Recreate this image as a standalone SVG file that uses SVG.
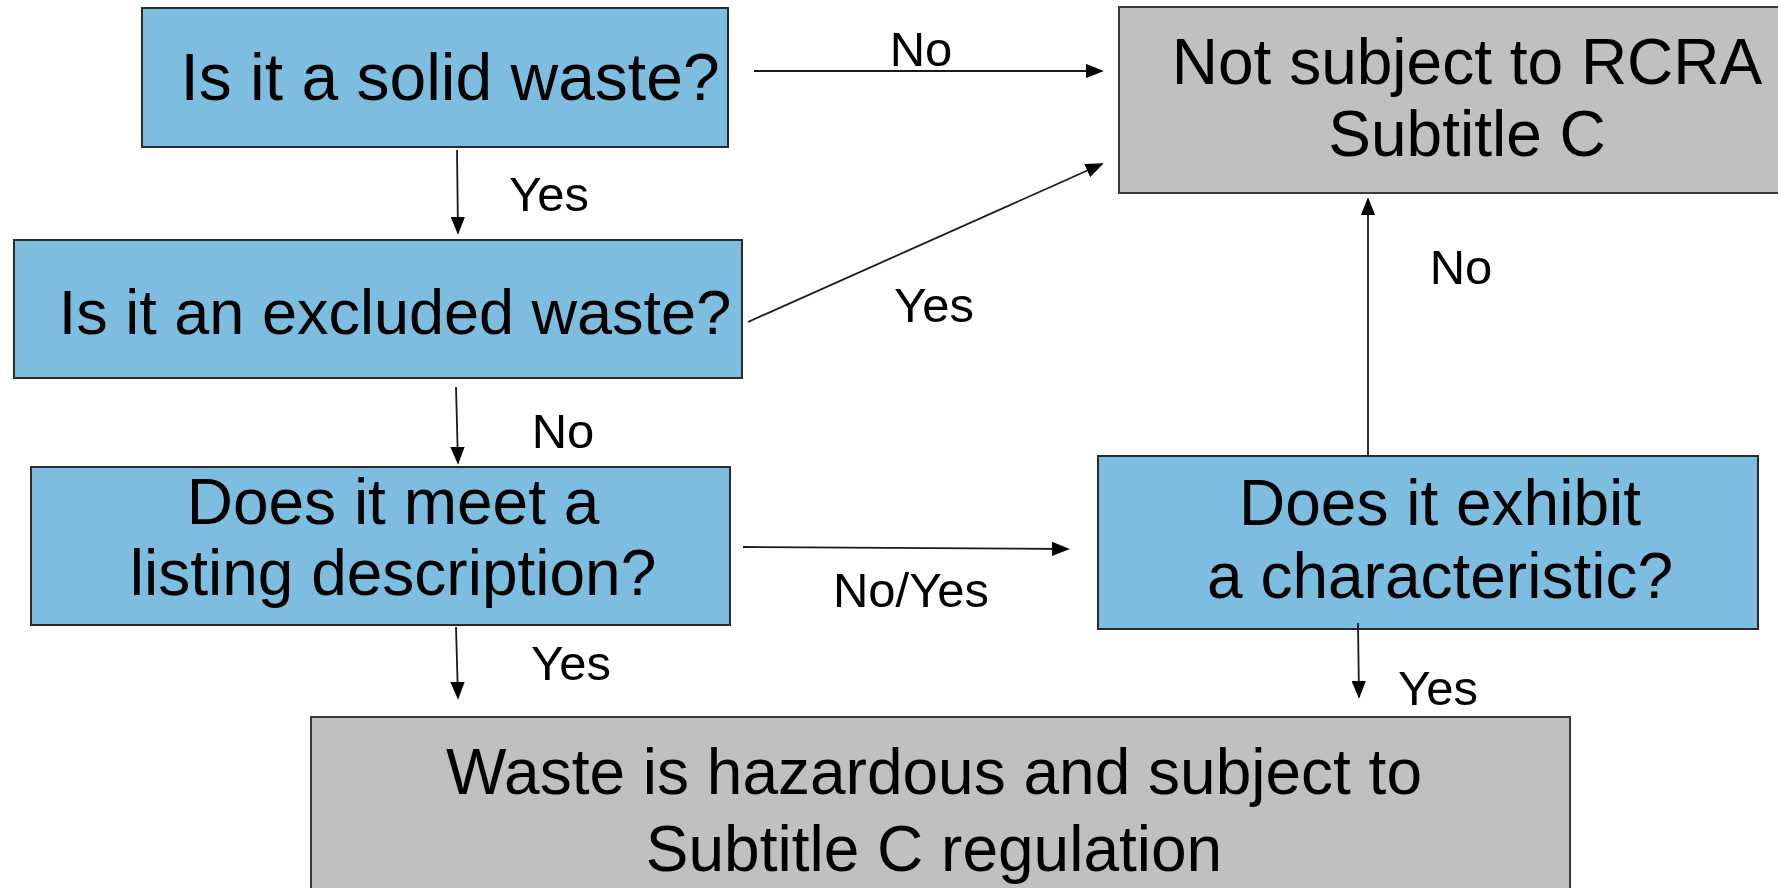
<svg xmlns="http://www.w3.org/2000/svg" width="1778" height="888" viewBox="0 0 1778 888">
<style>
.q{fill:#7dbde0;stroke:#2a2a2a;stroke-width:2}
.g{fill:#c0c0c0;stroke:#3a3a3a;stroke-width:2}
.t{font-family:"Liberation Sans",Arial,sans-serif;font-size:64px;fill:#000}
.l{font-family:"Liberation Sans",Arial,sans-serif;font-size:49px;fill:#000}
.c{fill:none;stroke:#1a1a1a;stroke-width:1.8}
</style>
<defs>
<marker id="ah" markerWidth="10" markerHeight="8" refX="9" refY="4" orient="auto" markerUnits="strokeWidth">
<path d="M0,0 L10,4 L0,8 Z" fill="#000"/>
</marker>
</defs>
<rect width="1778" height="888" fill="#fff"/>
<g id="n-solid">
<rect class="q" x="142" y="8" width="586" height="139"/>
<text class="t" x="450" y="100" text-anchor="middle" style="font-size:66px">Is it a solid waste?</text>
</g>
<g id="n-excluded">
<rect class="q" x="14" y="240" width="728" height="138"/>
<text class="t" x="395" y="334" text-anchor="middle" style="font-size:63px">Is it an excluded waste?</text>
</g>
<g id="n-listing">
<rect class="q" x="31" y="467" width="699" height="158"/>
<text class="t" x="393" y="524" text-anchor="middle">Does it meet a</text>
<text class="t" x="393" y="595" text-anchor="middle">listing description?</text>
</g>
<g id="n-characteristic">
<rect class="q" x="1098" y="456" width="660" height="173"/>
<text class="t" x="1440" y="525" text-anchor="middle">Does it exhibit</text>
<text class="t" x="1440" y="598" text-anchor="middle">a characteristic?</text>
</g>
<g id="n-not-subject">
<rect class="g" x="1119" y="7" width="665" height="186"/>
<text class="t" x="1467" y="84" text-anchor="middle">Not subject to RCRA</text>
<text class="t" x="1467" y="156" text-anchor="middle">Subtitle C</text>
</g>
<g id="n-hazardous">
<rect class="g" x="311" y="717" width="1259" height="190"/>
<text class="t" x="934" y="794" text-anchor="middle">Waste is hazardous and subject to</text>
<text class="t" x="934" y="871" text-anchor="middle">Subtitle C regulation</text>
</g>
<g id="connectors">
<line class="c" x1="754" y1="71" x2="1102" y2="71" marker-end="url(#ah)"/>
<line class="c" x1="748" y1="322" x2="1102" y2="164" marker-end="url(#ah)"/>
<line class="c" x1="457" y1="150" x2="458" y2="233" marker-end="url(#ah)"/>
<line class="c" x1="456" y1="387" x2="458" y2="463" marker-end="url(#ah)"/>
<line class="c" x1="456" y1="627" x2="458" y2="698" marker-end="url(#ah)"/>
<line class="c" x1="743" y1="547" x2="1068" y2="549" marker-end="url(#ah)"/>
<line class="c" x1="1368" y1="456" x2="1368" y2="199" marker-end="url(#ah)"/>
<line class="c" x1="1358" y1="623" x2="1359" y2="697" marker-end="url(#ah)"/>
<text class="l" x="921" y="66" text-anchor="middle">No</text>
<text class="l" x="549" y="211" text-anchor="middle">Yes</text>
<text class="l" x="934" y="322" text-anchor="middle">Yes</text>
<text class="l" x="1461" y="284" text-anchor="middle">No</text>
<text class="l" x="563" y="448" text-anchor="middle">No</text>
<text class="l" x="911" y="607" text-anchor="middle">No/Yes</text>
<text class="l" x="571" y="680" text-anchor="middle">Yes</text>
<text class="l" x="1438" y="705" text-anchor="middle">Yes</text>
</g>
</svg>
